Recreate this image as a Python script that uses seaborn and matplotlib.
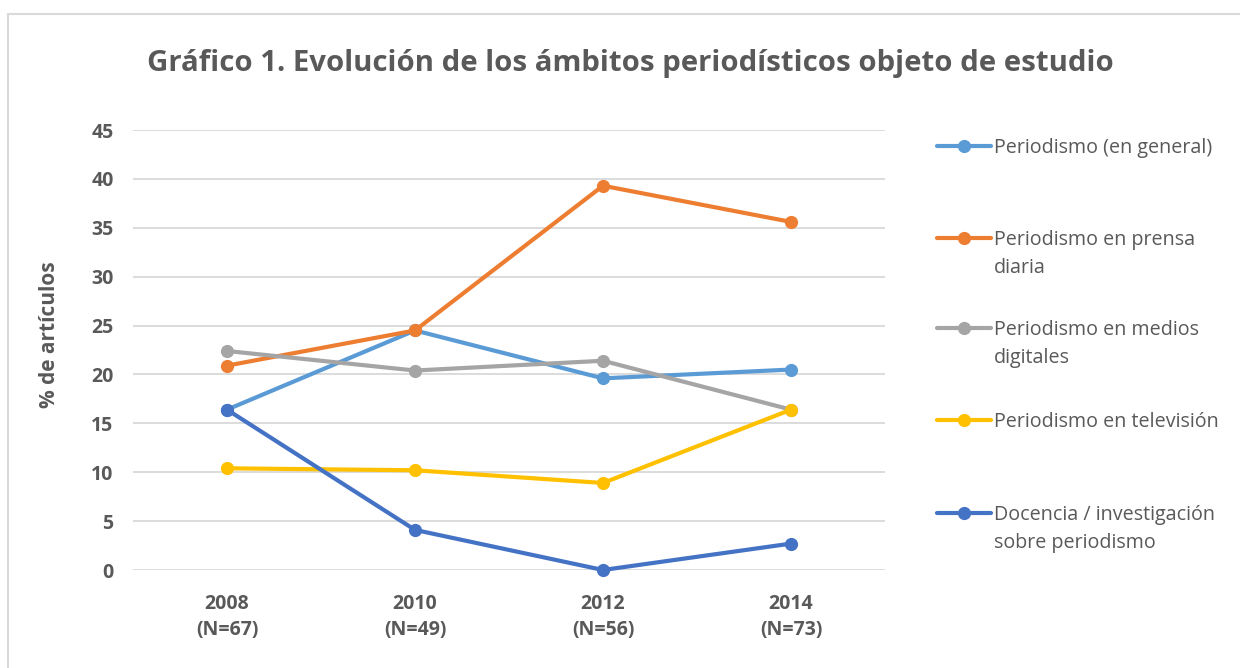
import pandas as pd
import matplotlib.pyplot as plt
import seaborn as sns
from matplotlib.lines import Line2D
from matplotlib.patches import Rectangle

# ---------- Data ----------
years = ["2008\n(N=67)", "2010\n(N=49)", "2012\n(N=56)", "2014\n(N=73)"]
series_names = [
    "Periodismo (en general)",
    "Periodismo en prensa\ndiaria",
    "Periodismo en medios\ndigitales",
    "Periodismo en televisión",
    "Docencia / investigación\nsobre periodismo",
]
general = [16.4, 24.5, 19.6, 20.5]
prensa = [20.9, 24.5, 39.3, 35.6]
digitales = [22.4, 20.4, 21.4, 16.4]
television = [10.4, 10.2, 8.9, 16.4]
docencia = [16.4, 4.1, 0.0, 2.7]
colors = ["#5B9BD5", "#ED7D31", "#A5A5A5", "#FFC000", "#4472C4"]

# ---------- Long-form table ----------
rows = []
for name, vals in zip(series_names, [general, prensa, digitales, television, docencia]):
    for i, v in enumerate(vals):
        rows.append({"pos": i, "serie": name, "valor": v})
df = pd.DataFrame(rows)

sns.set_style("white")
plt.rcParams['font.family'] = ['Open Sans', 'DejaVu Sans']
txt = "#595959"

fig = plt.figure(figsize=(12.4, 6.68), dpi=100)
# light frame around the chart area
fig.patches.append(Rectangle((8 / 1240, -0.1), 1.2, (668 - 14) / 668 + 0.1,
                             transform=fig.transFigure, fill=False,
                             edgecolor="#D9D9D9", linewidth=1.5))
ax = fig.add_axes([133 / 1240, 1 - 570 / 668, 752 / 1240, 440 / 668])

sns.lineplot(data=df, x="pos", y="valor", hue="serie", palette=colors,
             hue_order=series_names, marker="o", markersize=9.5,
             markeredgewidth=0, linewidth=3, ax=ax, legend=False)
# keep markers sitting on 0 fully visible
for ln in ax.lines:
    ln.set_clip_on(False)

ax.set_xlim(-0.5, 3.5)
ax.set_ylim(0, 45)
ax.set_yticks(range(0, 46, 5))
ax.set_xticks(range(len(years)))
ax.set_xticklabels(years, linespacing=1.45)
ax.grid(axis="y", color="#D9D9D9", linewidth=1.3)
ax.set_axisbelow(True)
for s in ax.spines.values():
    s.set_visible(False)
ax.tick_params(axis="both", length=0, labelsize=14, labelcolor=txt, pad=14)
ax.tick_params(axis="x", pad=17)
for lab in ax.get_xticklabels() + ax.get_yticklabels():
    lab.set_fontweight("bold")
ax.set_xlabel("")
ax.set_ylabel("% de artículos", fontsize=15, fontweight="bold", color=txt, va="center")
ax.yaxis.set_label_coords((50 - 133) / 752, (570 - 335) / 440)

fig.text(0.508, 0.905, "Gráfico 1. Evolución de los ámbitos periodísticos objeto de estudio",
         ha="center", va="center", fontsize=21.2, fontweight="bold", color=txt)

# ---------- Legend, one entry per slot ----------
slots = [148, 240, 330, 422, 515]
for name, col, yp in zip(series_names, colors, slots):
    h = Line2D([], [], color=col, linewidth=3, marker="o", markersize=9.5, markeredgewidth=0)
    parts = name.split("\n")
    leg = fig.legend([h], [parts[0]], loc="center left",
                     bbox_to_anchor=(937 / 1240, 1 - yp / 668), frameon=False,
                     fontsize=14.2, handlelength=2.74, handletextpad=0.15,
                     labelcolor=txt, borderpad=0, borderaxespad=0)
    if len(parts) > 1:
        fig.text(994 / 1240, 1 - (yp + 28) / 668, parts[1], ha="left", va="center",
                 fontsize=14.2, color=txt)

fig.savefig("out.png", dpi=100)
